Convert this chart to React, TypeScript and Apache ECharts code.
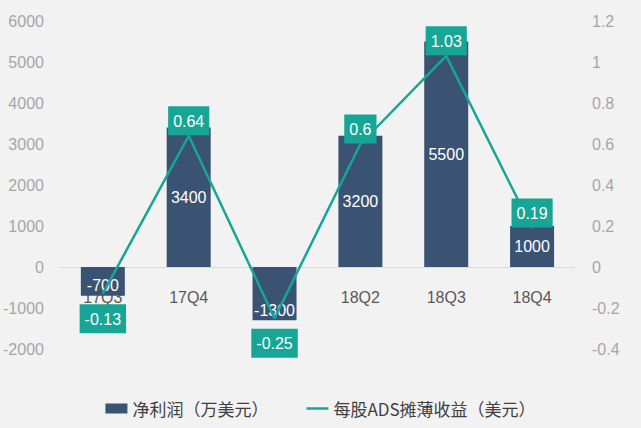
import React, { useEffect, useRef } from "react";
import * as echarts from "echarts";

const categories = ["17Q3", "17Q4", "18Q1", "18Q2", "18Q3", "18Q4"];
const netProfit = [-700, 3400, -1300, 3200, 5500, 1000];
const epsValues = [-0.13, 0.64, -0.25, 0.6, 1.03, 0.19];
const seriesNames = ["净利润（万美元）", "每股ADS摊薄收益（美元）"];

const BAR = "#3b5372";
const TEAL = "#17a696";
const FONT = "'Liberation Sans', 'Noto Sans CJK SC', sans-serif";

export default function App() {
  const ref = useRef<HTMLDivElement>(null);
  useEffect(() => {
    if (!ref.current) return;
    const chart = echarts.init(ref.current, null, { renderer: "svg" });
    chart.setOption({
      animation: false,
      backgroundColor: "#f2f2f2",
      textStyle: { fontFamily: FONT },
      grid: { left: 57, right: 66, top: 21, bottom: 79 },
      legend: {
        bottom: 6,
        left: "center",
        itemWidth: 22,
        itemHeight: 10,
        itemGap: 38,
        textStyle: { fontSize: 17, color: "#404040", fontFamily: "'Noto Sans CJK SC', sans-serif" },
        data: [
          { name: seriesNames[0], icon: "rect" },
          { name: seriesNames[1], icon: "path://M0,0 H22 V2.5 H0 Z" },
        ],
      },
      xAxis: {
        type: "category",
        data: categories,
        position: "bottom",
        offset: -82,
        axisLine: { onZero: false, lineStyle: { color: "#d9d9d9", width: 1 } },
        axisTick: { show: false },
        axisLabel: { fontSize: 16, color: "#595959", margin: 22 },
        z: 0,
      },
      yAxis: [
        {
          type: "value",
          min: -2000,
          max: 6000,
          interval: 1000,
          splitLine: { show: false },
          axisLine: { show: false },
          axisTick: { show: false },
          axisLabel: { fontSize: 16, color: "#a6a6a6", margin: 16, formatter: (v: number) => String(v) },
        },
        {
          type: "value",
          min: -0.4,
          max: 1.2,
          interval: 0.2,
          splitLine: { show: false },
          axisLine: { show: false },
          axisTick: { show: false },
          axisLabel: {
            fontSize: 16,
            color: "#a6a6a6",
            margin: 17,
            formatter: (v: number) => String(Math.round(v * 10) / 10),
          },
        },
      ],
      series: [
        {
          name: seriesNames[0],
          type: "bar",
          data: netProfit.map((v) => ({
            value: v,
            label: v < 0 ? { position: "insideBottom", distance: 2 } : { position: "inside" },
          })),
          barWidth: 44,
          itemStyle: { color: BAR },
          label: {
            show: true,
            position: "inside",
            color: "#ffffff",
            fontSize: 16,
          },
          z: 2,
        },
        {
          name: seriesNames[1],
          type: "line",
          yAxisIndex: 1,
          symbol: "circle",
          symbolSize: 1,
          itemStyle: { color: TEAL },
          lineStyle: { color: TEAL, width: 2.5 },
          data: epsValues.map((v) => ({
            value: v,
            label: { position: v < 0 ? "bottom" : "top", distance: v < 0 ? 10 : 0 },
          })),
          label: {
            show: true,
            color: "#ffffff",
            fontSize: 16,
            backgroundColor: TEAL,
            padding: [7, 5, 6, 5],
          },
          z: 3,
        },
      ],
    });
    return () => chart.dispose();
  }, []);
  return <div ref={ref} style={{ width: 641, height: 428, position: "absolute", left: 0, top: 0 }} />;
}
